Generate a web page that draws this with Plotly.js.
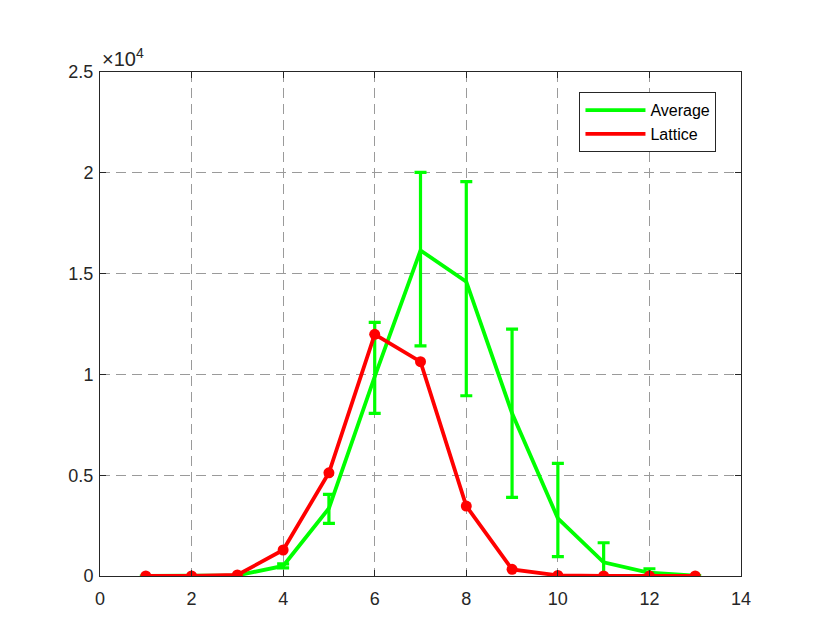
<!DOCTYPE html>
<html><head><meta charset="utf-8">
<script src="https://cdn.plot.ly/plotly-3.0.1.min.js"></script>
<style>body{margin:0;background:#fff}#c{width:830px;height:636px}</style>
</head><body><div id="c"></div>
<script>
const xAvg = [1,2,3,4,5,6,7,8,9,10,11,12,13];
const yAvg = [0,0,30,500,3360,9890,16150,14600,8070,2860,680,160,20];
const errPlus = [0,0,0,100,690,2690,3870,4960,4180,2730,970,200,0];
const errMinus = [0,0,0,100,750,1820,4740,5660,4170,1900,680,160,0];
const xLat = [1,2,3,4,5,6,7,8,9,10,11,12,13];
const yLat = [0,0,50,1290,5120,11990,10630,3470,330,30,0,0,0];
const yTickVals = [0,5000,10000,15000,20000,25000];
const yTickText = ['0','0.5','1','1.5','2','2.5'];
const xTickVals = [0,2,4,6,8,10,12,14];

const fam = 'Liberation Sans, Arial, sans-serif';
const font = {family:fam, size:18, color:'#262626'};
const traces = [
 {x:xAvg, y:yAvg, name:'Average', mode:'lines', type:'scatter',
  line:{color:'#00ff00', width:3.8},
  error_y:{type:'data', symmetric:false, array:errPlus, arrayminus:errMinus, color:'#00ff00', thickness:3.2, width:6}},
 {x:xLat, y:yLat, name:'Lattice', mode:'lines', type:'scatter', legendgroup:'lat',
  line:{color:'#ff0000', width:3.8}},
 {x:xLat, y:yLat, name:'Lattice', mode:'markers', type:'scatter', legendgroup:'lat', showlegend:false,
  marker:{color:'#ff0000', size:11}}
];
const ax = {showline:true, linecolor:'#262626', linewidth:1, mirror:'ticks', ticks:'inside', ticklen:6,
  tickcolor:'#262626', showgrid:true, gridcolor:'#9a9a9a', griddash:'10px,6px', gridwidth:1, zeroline:false, tickfont:font};
const layout = {
 width:830, height:636, margin:{l:100, r:89, t:72, b:60}, paper_bgcolor:'#fff', plot_bgcolor:'#fff',
 font:font, showlegend:true,
 xaxis:Object.assign({}, ax, {range:[0,14], tickvals:xTickVals, ticktext:xTickVals.map(String), ticklabelstandoff:6}),
 yaxis:Object.assign({}, ax, {range:[0,25000], tickvals:yTickVals, ticktext:yTickText, ticklabelstandoff:2}),
 legend:{x:0.748, y:0.96, xanchor:'left', yanchor:'top', bgcolor:'#fff', bordercolor:'#262626', borderwidth:1,
   font:{family:fam, size:16, color:'#000'}, tracegroupgap:0, itemwidth:60},
 annotations:[{xref:'paper', yref:'paper', x:0, y:1, xanchor:'left', yanchor:'bottom', showarrow:false,
   text:'×10<sup>4</sup>', font:{family:fam, size:20, color:'#262626'}}]
};
Plotly.newPlot('c', traces, layout, {staticPlot:true});
</script></body></html>
